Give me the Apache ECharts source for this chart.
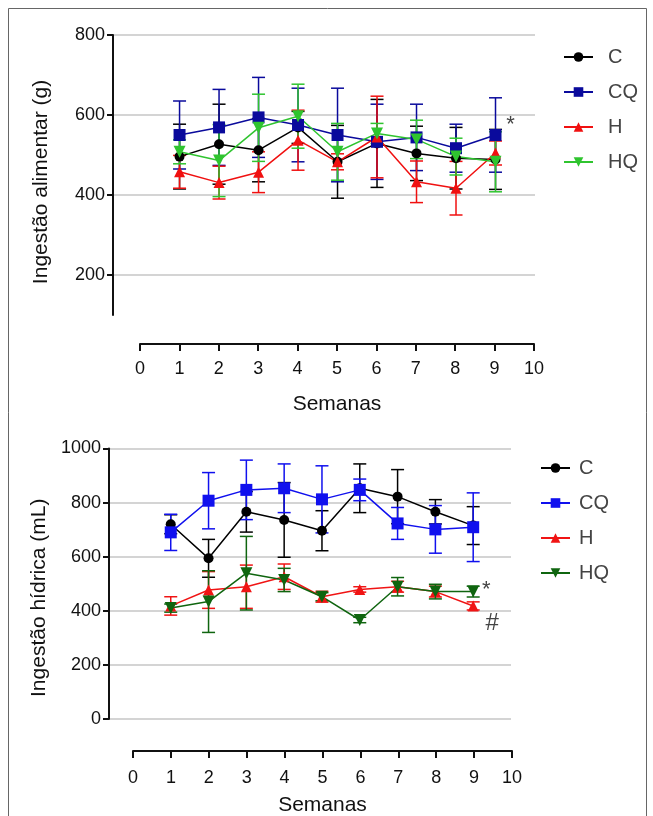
<!DOCTYPE html>
<html>
<head>
<meta charset="utf-8">
<script src="https://cdn.jsdelivr.net/npm/echarts@6/dist/echarts.min.js"></script>
<style>
  html, body { margin: 0; padding: 0; background: #fff; }
  #chart { width: 653px; height: 816px; }
</style>
</head>
<body>
<div id="chart"></div>
<script>
// weeks (x) and group names
const weeks = [1, 2, 3, 4, 5, 6, 7, 8, 9]
const groups = ['C', 'CQ', 'H', 'HQ']
const foodTicks = [200, 400, 600, 800]

// Ingestão alimentar (g) - mean and error per week
const foodC = [496, 527, 512, 569, 483, 529, 504, 492, 489]
const foodCErr = [81, 100, 79, 40, 91, 110, 68, 77, 75]
const foodCQ = [550, 569, 594, 575, 550, 533, 544, 517, 550]
const foodCQErr = [85, 95, 100, 92, 117, 94, 83, 60, 93]
const foodH = [458, 431, 457, 537, 483, 545, 433, 417, 505]
const foodHErr = [41, 41, 51, 75, 20, 102, 52, 67, 30]
const foodHQ = [508, 486, 568, 597, 508, 554, 539, 496, 483]
const foodHQErr = [30, 90, 84, 80, 71, 25, 48, 46, 75]

// Ingestão hídrica (mL)
const waterC = [720, 594, 766, 736, 696, 853, 822, 766, 715]
const waterCErr = [35, 70, 75, 138, 74, 90, 100, 45, 70]
const waterCQ = [690, 807, 847, 853, 812, 847, 723, 701, 709]
const waterCQErr = [67, 104, 110, 90, 124, 40, 59, 88, 127]
const waterH = [418, 477, 489, 526, 452, 479, 489, 471, 418]
const waterHErr = [34, 68, 80, 47, 20, 10, 20, 20, 15]
const waterHQ = [410, 434, 539, 514, 452, 366, 489, 471, 471]
const waterHQErr = [15, 114, 136, 43, 15, 10, 34, 27, 20]

const topColors = ['#000000', '#0a0a9c', '#f01010', '#2fc42f']
const bottomColors = ['#000000', '#1010ee', '#f01414', '#0f650f']
const symbols = ['circle', 'rect', 'triangle', 'triangle']
const symbolRot = [0, 0, 0, 180]
const symbolSizes = [10, 12, 11, 12]

const chart = echarts.init(document.getElementById('chart'))

function lineSeries(name, values, idx, colors, axisIdx, note) {
  return {
    name: name,
    type: 'line',
    xAxisIndex: axisIdx,
    yAxisIndex: axisIdx,
    data: values.map((v, i) => {
      if (note && note.index === i) {
        return {
          value: [weeks[i], v],
          label: {
            show: true,
            formatter: note.text,
            position: 'inside',
            offset: note.offset,
            fontSize: note.size,
            color: '#444',
            fontFamily: 'Liberation Sans'
          }
        }
      }
      return [weeks[i], v]
    }),
    symbol: symbols[idx],
    symbolRotate: symbolRot[idx],
    symbolSize: symbolSizes[idx],
    lineStyle: { color: colors[idx], width: 1.5 },
    itemStyle: { color: colors[idx] },
    z: 3,
    animation: false
  }
}

function errorSeries(values, errs, color, axisIdx) {
  return {
    type: 'custom',
    xAxisIndex: axisIdx,
    yAxisIndex: axisIdx,
    silent: true,
    z: 2,
    animation: false,
    data: values.map((v, i) => [weeks[i], v - errs[i], v + errs[i]]),
    encode: { x: 0, y: [1, 2] },
    renderItem(params, api) {
      const x = api.value(0)
      const lo = api.coord([x, api.value(1)])
      const hi = api.coord([x, api.value(2)])
      const half = 6.5
      const style = { stroke: color, lineWidth: 1.5 }
      return {
        type: 'group',
        children: [
          { type: 'line', shape: { x1: hi[0], y1: hi[1], x2: lo[0], y2: lo[1] }, style },
          { type: 'line', shape: { x1: hi[0] - half, y1: hi[1], x2: hi[0] + half, y2: hi[1] }, style },
          { type: 'line', shape: { x1: lo[0] - half, y1: lo[1], x2: lo[0] + half, y2: lo[1] }, style }
        ]
      }
    }
  }
}

const yAxisLine = { show: true, onZero: false, lineStyle: { color: '#111', width: 2 } }
const xAxisLine = { show: true, onZero: false, lineStyle: { color: '#111', width: 2 } }
const tickFont = { fontSize: 18, color: '#111', fontFamily: 'Liberation Sans' }
const titleFont = { fontSize: 21, color: '#111', fontFamily: 'Liberation Sans' }
const gridLine = { show: true, lineStyle: { color: '#d4d4d4', width: 2 } }

const foodSets = [[foodC, foodCErr], [foodCQ, foodCQErr], [foodH, foodHErr], [foodHQ, foodHQErr]]
const waterSets = [[waterC, waterCErr], [waterCQ, waterCQErr], [waterH, waterHErr], [waterHQ, waterHQErr]]
const bottomNames = groups.map(g => g + ' ')

const series = []
foodSets.forEach((s, i) => series.push(errorSeries(s[0], s[1], topColors[i], 0)))
waterSets.forEach((s, i) => series.push(errorSeries(s[0], s[1], bottomColors[i], 2)))
foodSets.forEach((s, i) => {
  const note = i === 1 ? { index: 8, text: '*', offset: [15, -10], size: 22 } : null
  series.push(lineSeries(groups[i], s[0], i, topColors, 0, note))
})
waterSets.forEach((s, i) => {
  let note = null
  if (i === 3) note = { index: 8, text: '*', offset: [13, -2], size: 22 }
  if (i === 2) note = { index: 8, text: '#', offset: [19, 17], size: 24 }
  series.push(lineSeries(bottomNames[i], s[0], i, bottomColors, 2, note))
})

const option = {
  backgroundColor: '#fff',
  animation: false,
  graphic: [{
    type: 'rect',
    shape: { x: 8.5, y: 8.5, width: 638, height: 820 },
    style: { fill: 'none', stroke: '#666', lineWidth: 1 }
  }],
  grid: [
    { left: 113, right: 118, top: 35, bottom: 501, outerBoundsMode: 'none' },
    { left: 140, right: 119, top: 343, height: 1, outerBoundsMode: 'none' },
    { left: 109, right: 142, top: 448.5, bottom: 97, outerBoundsMode: 'none' },
    { left: 133, right: 141, top: 750, height: 1, outerBoundsMode: 'none' }
  ],
  xAxis: [
    { gridIndex: 0, type: 'value', min: -0.685, max: 10, show: false },
    {
      gridIndex: 1, type: 'value', min: 0, max: 10, interval: 1,
      axisLine: xAxisLine,
      axisTick: { show: true, length: 7, lineStyle: { color: '#111', width: 2 } },
      axisLabel: Object.assign({ margin: 16 }, tickFont),
      splitLine: { show: false },
      name: 'Semanas', nameLocation: 'middle', nameGap: 50,
      nameTextStyle: titleFont
    },
    { gridIndex: 2, type: 'value', min: -0.633, max: 10, show: false },
    {
      gridIndex: 3, type: 'value', min: 0, max: 10, interval: 1,
      axisLine: xAxisLine,
      axisTick: { show: true, length: 7, lineStyle: { color: '#111', width: 2 } },
      axisLabel: Object.assign({ margin: 18 }, tickFont),
      splitLine: { show: false },
      name: 'Semanas', nameLocation: 'middle', nameGap: 44,
      nameTextStyle: titleFont
    }
  ],
  yAxis: [
    {
      gridIndex: 0, type: 'value', min: 100, max: 800,
      axisLine: yAxisLine,
      axisTick: { show: true, length: 6, customValues: foodTicks, lineStyle: { color: '#111', width: 2 } },
      axisLabel: Object.assign({ margin: 8, customValues: foodTicks, formatter: v => String(v) }, tickFont),
      splitLine: gridLine,
      name: 'Ingestão alimentar (g)', nameLocation: 'middle', nameGap: 61,
      nameTextStyle: Object.assign({ padding: [0, 14, 0, 0] }, titleFont)
    },
    { gridIndex: 1, type: 'value', min: 0, max: 1, show: false },
    {
      gridIndex: 2, type: 'value', min: 0, max: 1000, interval: 200,
      axisLine: yAxisLine,
      axisTick: { show: true, length: 6, lineStyle: { color: '#111', width: 2 } },
      axisLabel: Object.assign({ margin: 8, formatter: v => String(v) }, tickFont),
      splitLine: gridLine,
      name: 'Ingestão hídrica (mL)', nameLocation: 'middle', nameGap: 58,
      nameTextStyle: Object.assign({ padding: [0, 28, 0, 0] }, titleFont)
    },
    { gridIndex: 3, type: 'value', min: 0, max: 1, show: false }
  ],
  legend: [
    {
      data: groups, orient: 'vertical', left: 563, top: 47, padding: 0,
      itemWidth: 29, itemHeight: 12, itemGap: 15,
      textStyle: { fontSize: 20, lineHeight: 20, color: '#444', fontFamily: 'Liberation Sans', padding: [0, 0, 0, 10] }
    },
    {
      data: bottomNames, orient: 'vertical', left: 540, top: 458, padding: 0,
      itemWidth: 29, itemHeight: 12, itemGap: 15,
      formatter: n => n.trim(),
      textStyle: { fontSize: 20, lineHeight: 20, color: '#444', fontFamily: 'Liberation Sans', padding: [0, 0, 0, 4] }
    }
  ],
  series: series
}

chart.setOption(option)
</script>
</body>
</html>
